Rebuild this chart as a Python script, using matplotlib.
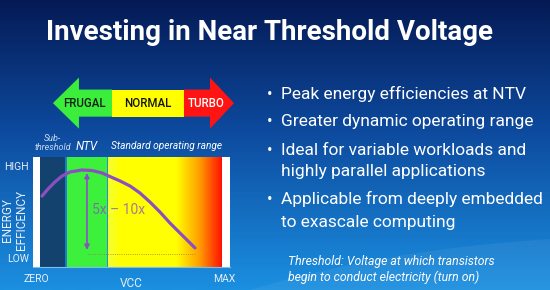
import numpy as np
import matplotlib.pyplot as plt
from matplotlib.patches import Polygon, Ellipse
from matplotlib.colors import LinearSegmentedColormap

plt.rcParams["font.family"] = ["Roboto", "DejaVu Sans"]

TITLE = "Investing in Near Threshold Voltage"
BULLETS = [
    ["Peak energy efficiencies at NTV"],
    ["Greater dynamic operating range"],
    ["Ideal for variable workloads and", "highly parallel applications"],
    ["Applicable from deeply embedded", "to exascale computing"],
]
NOTE = ["Threshold: Voltage at which transistors",
        "begin to conduct electricity (turn on)"]

# energy efficiency curve (VCC: 0 = ZERO, 1 = MAX; efficiency: 0 = bottom, 1 = top)
vcc = [0.011, 0.044, 0.082, 0.121, 0.165, 0.231, 0.286, 0.341, 0.390,
       0.440, 0.495, 0.549, 0.604, 0.659, 0.714, 0.780, 0.852]
efficiency = [0.645, 0.709, 0.773, 0.827, 0.864, 0.882, 0.877, 0.855, 0.818,
              0.782, 0.736, 0.673, 0.591, 0.500, 0.400, 0.291, 0.173]

# operating regions along VCC
region_names = ["Sub-\nthreshold", "NTV", "Standard operating range"]
subthreshold = (0.0, 0.137)
ntv = (0.148, 0.368)
standard = (0.376, 1.0)

# gain arrow and LOW reference line
gain_x = 0.258
gain_range = (0.155, 0.855)
gain_label = "5x \u2013 10x"
low_ref = 0.118

# top mode arrow
mode_labels = ["FRUGAL", "NORMAL", "TURBO"]
mode_edges = [0.071, 0.396, 0.791, 1.066]
mode_colors = ["#3cee3c", "#ffff00", "#ff1414"]
mode_text_colors = ["#142014", "#141414", "#ffffff"]

y_ticks = [0.08, 0.918]
y_labels = ["LOW", "HIGH"]
x_ticks = [-0.02, 1.01]
x_labels = ["ZERO", "MAX"]

W, H = 550, 290
fig = plt.figure(figsize=(W / 100, H / 100), dpi=100)

# slide background
bg = fig.add_axes([0, 0, 1, 1])
bg_cmap = LinearSegmentedColormap.from_list(
    "slide", [(0.0, "#051a55"), (0.45, "#0d4a9e"), (1.0, "#1b8fe0")])
bg.imshow(np.linspace(0, 1, 300)[:, None], cmap=bg_cmap, aspect="auto",
          extent=[0, W, H, 0])
bg.add_patch(Ellipse((650, 520), 1364, 568, facecolor="white", alpha=0.06,
                     edgecolor="none"))
bg.set_xlim(0, W)
bg.set_ylim(H, 0)
bg.axis("off")

bg.text(270, 40, TITLE, ha="center", va="baseline", color="white",
        fontsize=20, fontweight="bold")

baselines = [[99], [126], [155, 176], [204, 227]]
for lines, ys in zip(BULLETS, baselines):
    bg.text(270, ys[0], "\u2022", ha="center", va="baseline", color="white",
            fontsize=12)
    for line, y in zip(lines, ys):
        bg.text(281, y, line, ha="left", va="baseline", color="white",
                fontsize=12.5)

for line, y in zip(NOTE, [265, 281]):
    bg.text(288, y, line, ha="left", va="baseline", color="white",
            fontsize=8.8, style="italic")

# chart
ax = fig.add_axes([33 / W, 23 / H, 197 / W, 110 / H])

ax.axvspan(*subthreshold, color="#14426e", lw=0)
ax.axvspan(subthreshold[1], ntv[0], color="#1f7ccc", lw=0)
ax.axvspan(*ntv, color="#3cf03c", lw=0)
ax.axvspan(ntv[1], standard[0], color="#2b8fd6", lw=0)
grad_cmap = LinearSegmentedColormap.from_list(
    "vcc", [(0.0, "#f2ff3a"), (0.1, "#ffff00"), (0.6, "#ffff00"),
            (0.8, "#ffa000"), (1.0, "#ff1200")])
ax.imshow(np.linspace(0, 1, 256)[None, :], cmap=grad_cmap, aspect="auto",
          extent=[standard[0], standard[1], 0, 1], zorder=1)
ax.set_xlim(-0.0385, 1.044)
ax.set_ylim(0, 1)

ax.plot(vcc, efficiency, color="#8c4fc0", lw=2.3, solid_capstyle="round",
        zorder=3)
ax.annotate("", xy=(gain_x, gain_range[1]), xytext=(gain_x, gain_range[0]),
            arrowprops=dict(arrowstyle="<|-|>", color="#8c4fc0", lw=1.2,
                            mutation_scale=7, shrinkA=0, shrinkB=0), zorder=3)
ax.plot([gain_x + 0.006, vcc[-1]], [low_ref, low_ref], ls=":", lw=0.6,
        color="#a07840", zorder=2)
ax.text(gain_x + 0.03, 0.52, gain_label, color="#8c4fc0", alpha=0.75,
        fontsize=10, ha="left", va="center", zorder=3)

# region labels
ax.text(np.mean(subthreshold), 1.127, region_names[0], ha="center",
        va="center", color="#c8d8ee", fontsize=6.5, style="italic",
        linespacing=1.0, clip_on=False)
ax.text(np.mean(ntv), 1.10, region_names[1], ha="center", va="center",
        color="white", fontsize=8.5, style="italic", clip_on=False)
ax.text(0.698, 1.10, region_names[2], ha="center", va="center",
        color="white", fontsize=7.3, style="italic", clip_on=False)

# mode arrow
yc, body, head = 1.49, 0.123, 0.232
hl, hr = 0.143, 0.132
e0, e1, e2, e3 = mode_edges
shapes = [
    [(e0, yc), (e0 + hl, yc + head), (e0 + hl, yc + body), (e1, yc + body),
     (e1, yc - body), (e0 + hl, yc - body), (e0 + hl, yc - head)],
    [(e1, yc + body), (e2, yc + body), (e2, yc - body), (e1, yc - body)],
    [(e2, yc + body), (e3 - hr, yc + body), (e3 - hr, yc + head), (e3, yc),
     (e3 - hr, yc - head), (e3 - hr, yc - body), (e2, yc - body)],
]
text_x = [0.242, 0.59, 0.915]
for shape, col, lab, tcol, tx in zip(shapes, mode_colors, mode_labels,
                                      mode_text_colors, text_x):
    ax.add_patch(Polygon(shape, closed=True, facecolor=col, edgecolor="none",
                         clip_on=False))
    ax.text(tx, yc, lab, ha="center", va="center", color=tcol, fontsize=8.3,
            fontweight="medium", clip_on=False)

# axes styling
for side in ["top", "right", "left"]:
    ax.spines[side].set_visible(False)
ax.spines["bottom"].set_color("#78c0f0")
ax.spines["bottom"].set_linewidth(0.8)
ax.set_xticks(x_ticks, x_labels)
ax.set_yticks(y_ticks, y_labels)
ax.tick_params(length=0, labelcolor="#e6eef8", labelsize=7.5)
ax.tick_params(axis="x", pad=5)
ax.tick_params(axis="y", pad=3)
ax.set_xlabel("VCC", color="#e6eef8", fontsize=8.5)
ax.xaxis.set_label_coords(0.5, -0.095)
ax.set_ylabel("ENERGY\nEFFICENCY", color="#e6eef8", fontsize=8.5,
              linespacing=1.1)
ax.yaxis.set_label_coords(-0.025, 0.43)

fig.savefig("out.png", dpi=100)
